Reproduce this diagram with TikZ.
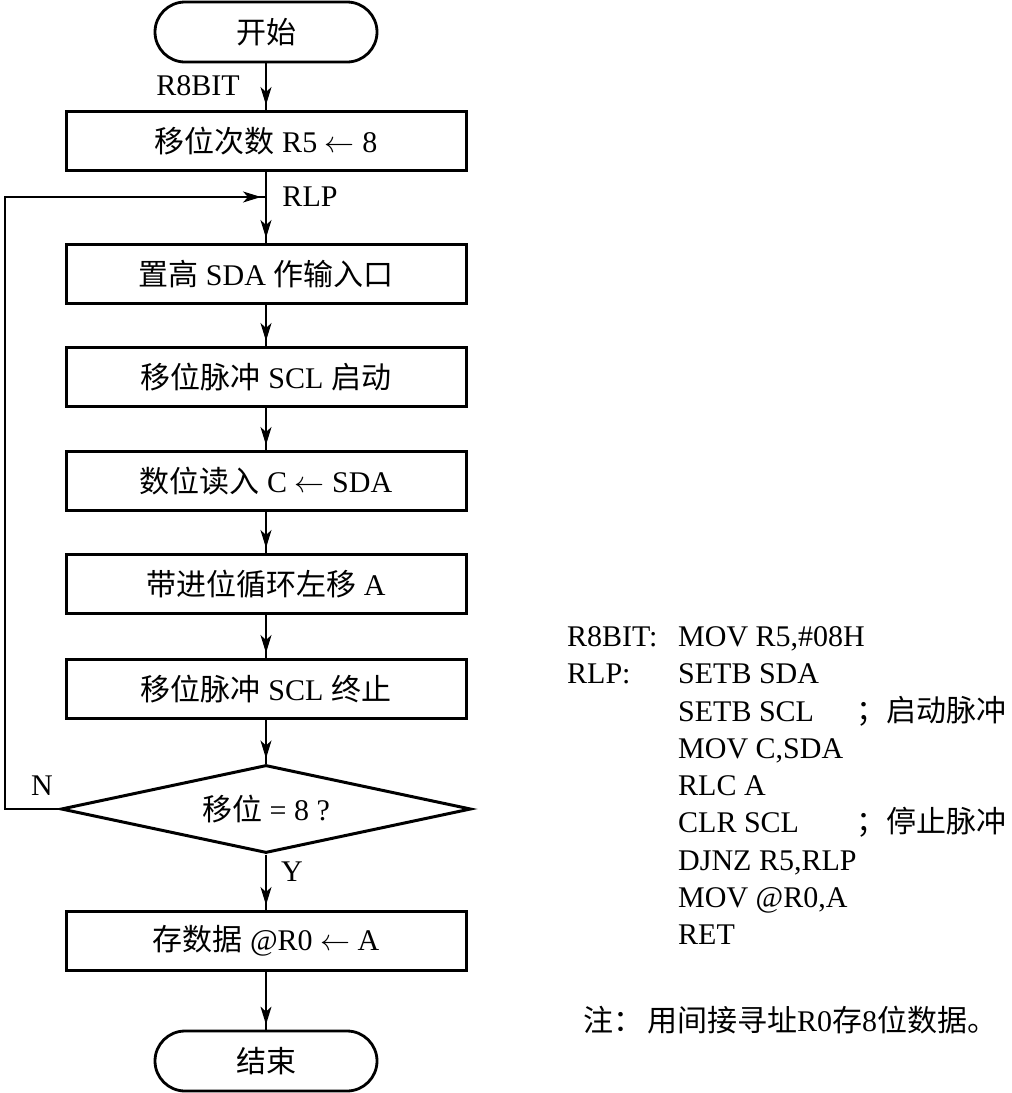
\documentclass[tikz,border=0pt]{standalone}
\usepackage{fix-cm}
\usepackage{fontspec}
\setmainfont{Liberation Serif}
\newfontfamily\cjk{Noto Sans CJK SC}
\usetikzlibrary{positioning, arrows.meta, shapes.geometric, shapes.misc, decorations.markings}

\begin{document}
\begin{tikzpicture}[
    x=1pt, y=-1pt,
    every node/.style={font=\fontsize{30}{36}\selectfont},
    terminal/.style={rounded rectangle, draw, line width=2.8pt, minimum width=222pt, minimum height=60pt, inner sep=0pt},
    proc/.style={rectangle, draw, line width=3pt, minimum width=400pt, minimum height=59pt, inner sep=0pt},
    decision/.style={diamond, draw, line width=3pt, aspect=4.66, minimum width=410pt, minimum height=88pt, inner sep=0pt},
    flow/.style={line width=1.4pt, postaction={decorate},
      decoration={markings, mark=at position -5pt with {\arrow{Stealth[length=18pt, width=11pt, inset=5pt]}}}},
    tag/.style={inner sep=0pt},
    asm/.style={inner sep=0pt, anchor=base west}
]
  \useasboundingbox (0,0) rectangle (1012,1093);
  % Flow chart
  \node[terminal] (start) at (266,32) {\cjk 开始};
  \node[proc] (init) at (266,141) {{\cjk 移位次数} R5 $\leftarrow$ 8};
  \node[proc] (sethi) at (266,274) {{\cjk 置高} SDA {\cjk 作输入口}};
  \node[proc] (clkon) at (266,377) {{\cjk 移位脉冲} SCL {\cjk 启动}};
  \node[proc] (rdbit) at (266,481) {{\cjk 数位读入} C $\leftarrow$ SDA};
  \node[proc] (rotate) at (266,584) {{\cjk 带进位循环左移} A};
  \node[proc] (clkoff) at (266,689) {{\cjk 移位脉冲} SCL {\cjk 终止}};
  \node[decision] (count) at (266,809) {{\cjk 移位} = 8 ?};
  \node[proc] (store) at (266,941) {{\cjk 存数据} @R0 $\leftarrow$ A};
  \node[terminal] (stop) at (266,1061) {\cjk 结束};
  \coordinate (rlp) at (266,197);
  \coordinate (nturn) at (5,809);
  % Connectors
  \draw[flow] (start) -- (init);
  \draw[flow] (init) -- (sethi);
  \draw[flow] (sethi) -- (clkon);
  \draw[flow] (clkon) -- (rdbit);
  \draw[flow] (rdbit) -- (rotate);
  \draw[flow] (rotate) -- (clkoff);
  \draw[flow] (clkoff) -- (count);
  \draw[flow] (count) -- (store);
  \draw[flow] (store) -- (stop);
  \draw[flow] (count.west) -- (nturn) |- (rlp);
  % Labels
  \node[tag] at (198,86) {R8BIT};
  \node[tag] at (310,197) {RLP};
  \node[tag] at (42,786) {N};
  \node[tag] at (292,872) {Y};
  % Program listing
  \node[asm] (lblr8) at (567,646) {R8BIT:};
  \node[asm] (lblrlp) at (567,683) {RLP:};
  \node[asm] (op1) at (678,646) {MOV R5,\#08H};
  \node[asm] (op2) at (678,683) {SETB SDA};
  \node[asm] (op3) at (678,721) {SETB SCL};
  \node[asm] (op4) at (678,758) {MOV C,SDA};
  \node[asm] (op5) at (678,795) {RLC A};
  \node[asm] (op6) at (678,832) {CLR SCL};
  \node[asm] (op7) at (678,870) {DJNZ R5,RLP};
  \node[asm] (op8) at (678,907) {MOV @R0,A};
  \node[asm] (op9) at (678,944) {RET};
  \node[asm] (cmt3) at (856,721) {\cjk ；启动脉冲};
  \node[asm] (cmt6) at (856,832) {\cjk ；停止脉冲};
  \node[asm] (note) at (583,1031) {{\cjk 注：}\hspace{4pt}{\cjk 用间接寻址}R0{\cjk 存}8{\cjk 位数据。}};
\end{tikzpicture}
\end{document}
